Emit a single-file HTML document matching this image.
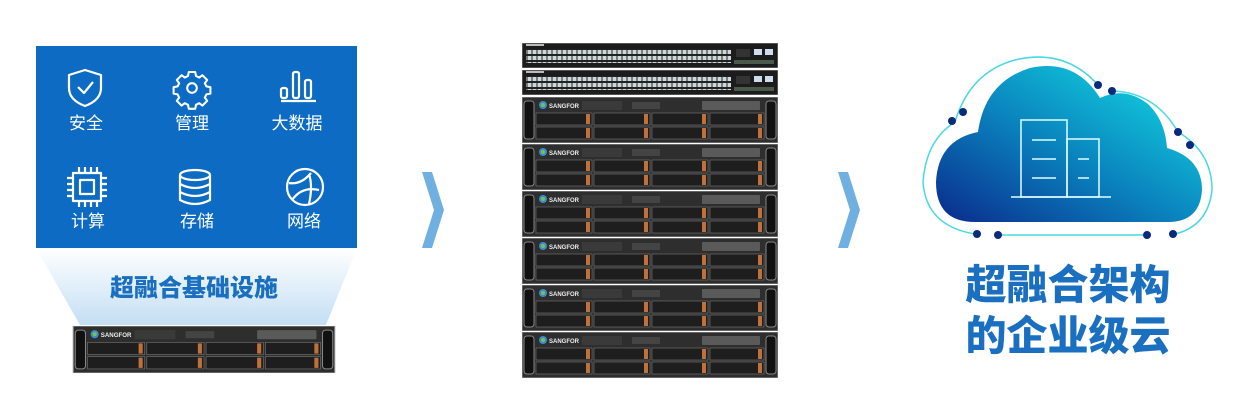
<!DOCTYPE html>
<html><head><meta charset="utf-8">
<style>
html,body{margin:0;padding:0;background:#fff;width:1250px;height:420px;overflow:hidden;font-family:"Liberation Sans","Noto Sans CJK SC",sans-serif;}
svg{position:absolute;left:0;top:0}
.t{font-family:"Liberation Sans","Noto Sans CJK SC",sans-serif;}
</style></head><body>
<svg width="1250" height="420" viewBox="0 0 1250 420" xmlns="http://www.w3.org/2000/svg">
<defs>
<linearGradient id="beam" x1="0" y1="0" x2="0" y2="1">
<stop offset="0" stop-color="#fff"/><stop offset="1" stop-color="#b9d9f2"/></linearGradient>
<linearGradient id="cg" x1="0" y1="1" x2="1" y2="0">
<stop offset="0" stop-color="#0a2a8c"/><stop offset="0.45" stop-color="#0a80bc"/><stop offset="1" stop-color="#14e4e8"/></linearGradient>
<symbol id="srv" viewBox="0 0 256 46">
<rect x="0" y="0" width="256" height="46" fill="#2e2e2e"/>
<rect x="0" y="0" width="256" height="46" fill="none" stroke="#999" stroke-width="1"/>
<rect x="2" y="4" width="10" height="38" rx="3" fill="#111" stroke="#888"/>
<rect x="244" y="4" width="10" height="38" rx="3" fill="#111" stroke="#888"/>
<circle cx="21" cy="8" r="4" fill="#3a8ad0"/><circle cx="21" cy="8" r="2" fill="#7cc04a"/>
<text x="27" y="11" font-size="6" fill="#eee" font-weight="bold" font-family="Liberation Sans">SANGFOR</text>
<rect x="60" y="4" width="40" height="9" fill="#3a3a3a"/>
<rect x="110" y="5" width="28" height="7" fill="#444"/>
<rect x="180" y="4" width="58" height="9" rx="1" fill="#5a5a5a"/>
<g fill="#1e1e1e" stroke="#777" stroke-width="0.6">
<rect x="14" y="16" width="56" height="12"/><rect x="72" y="16" width="56" height="12"/><rect x="130" y="16" width="56" height="12"/><rect x="188" y="16" width="54" height="12"/>
<rect x="14" y="30" width="56" height="12"/><rect x="72" y="30" width="56" height="12"/><rect x="130" y="30" width="56" height="12"/><rect x="188" y="30" width="54" height="12"/>
</g>
<g fill="#c0703a">
<rect x="64" y="17" width="4" height="10"/><rect x="122" y="17" width="4" height="10"/><rect x="180" y="17" width="4" height="10"/><rect x="236" y="17" width="4" height="10"/>
<rect x="64" y="31" width="4" height="10"/><rect x="122" y="31" width="4" height="10"/><rect x="180" y="31" width="4" height="10"/><rect x="236" y="31" width="4" height="10"/>
</g>
</symbol>
<pattern id="ports" width="5" height="12" patternUnits="userSpaceOnUse">
<rect width="5" height="12" fill="#222"/><rect x="0.5" y="1" width="4" height="4" fill="#cfd8d8"/><rect x="0.5" y="7" width="4" height="4" fill="#cfd8d8"/>
</pattern>
<symbol id="sw" viewBox="0 0 256 25">
<rect width="256" height="25" fill="#1c1c1c" stroke="#888"/>
<rect x="4" y="1" width="18" height="2" fill="#bbb"/>
<rect x="4" y="6" width="205" height="14" fill="url(#ports)"/>
<rect x="214" y="6" width="14" height="8" fill="#333"/>
<rect x="232" y="6" width="8" height="6" fill="#cde"/><rect x="243" y="6" width="8" height="6" fill="#cde"/>
<rect x="212" y="17" width="40" height="4" fill="#4a5a4a"/>
</symbol>
</defs>

<!-- left panel -->
<polygon points="36,248 357,248 326,325 80,325" fill="url(#beam)" opacity="0.85"/>
<rect x="36" y="46" width="321" height="202" fill="#0d6bc3"/>
<g fill="none" stroke="#fff" stroke-width="2.2" stroke-linejoin="round">
<path d="M85 70 L101 75 L101 88 Q101 100 85 106 Q69 100 69 88 L69 75 Z"/><path d="M78 87 L84 93 L93 82"/>
<g transform="translate(192 88) scale(0.8) translate(-192 -88)" stroke-width="2.6">
<path d="M188 68h8l1 5 4 2 4-3 6 6-3 4 2 4 5 1v8l-5 1-2 4 3 4-6 6-4-3-4 2-1 5h-8l-1-5-4-2-4 3-6-6 3-4-2-4-5-1v-8l5-1 2-4-3-4 6-6 4 3 4-2z"/><circle cx="192" cy="88" r="6"/></g>
<path d="M281 101 L316 101"/><rect x="281" y="88" width="6" height="10" rx="2"/><rect x="293" y="72" width="6" height="26" rx="2"/><rect x="305" y="80" width="6" height="18" rx="2"/>
<rect x="73" y="173" width="28" height="28"/><rect x="80" y="180" width="14" height="14"/>
<path d="M79 167v6M85 167v6M91 167v6M97 167v6M79 201v6M85 201v6M91 201v6M97 201v6M67 178h6M67 184h6M67 190h6M67 196h6M101 178h6M101 184h6M101 190h6M101 196h6"/>
<ellipse cx="195" cy="175" rx="15" ry="5"/><path d="M180 175v25q15 8 30 0v-25M180 184q15 8 30 0M180 192q15 8 30 0"/>
<circle cx="305" cy="187" r="18"/><path d="M289 183q12 2 22 -10M292 200q10-14 27-10M309 174q4 12 0 30"/>
</g>
<g fill="#fff" font-size="17" class="t" text-anchor="middle">
<text x="86" y="129">安全</text><text x="192" y="129">管理</text><text x="297" y="129">大数据</text>
<text x="88" y="227">计算</text><text x="197" y="227">存储</text><text x="304" y="227">网络</text>
</g>
<text x="194" y="296" font-size="24" fill="#1a6fc0" text-anchor="middle" style="font-family:'Noto Sans CJK SC',sans-serif;font-weight:900">超融合基础设施</text>
<use href="#srv" x="68" y="326" width="272" height="47"/>

<!-- chevrons -->
<polygon points="422,172 432,172 444,210 432,248 422,248 434,210" fill="#6fb0e0"/>
<polygon points="838,172 848,172 860,210 848,248 838,248 850,210" fill="#6fb0e0"/>

<!-- stack -->
<use href="#sw" x="522" y="43" width="256" height="25"/>
<use href="#sw" x="522" y="70" width="256" height="25"/>
<use href="#srv" x="522" y="97" width="256" height="46"/>
<use href="#srv" x="522" y="144" width="256" height="46"/>
<use href="#srv" x="522" y="191" width="256" height="46"/>
<use href="#srv" x="522" y="238" width="256" height="46"/>
<use href="#srv" x="522" y="285" width="256" height="46"/>
<use href="#srv" x="522" y="332" width="256" height="46"/>

<!-- cloud -->
<path d="M975 222 Q936 222 936 182 Q938 140 978 132 Q985 82 1030 68 Q1075 58 1100 98 Q1125 86 1148 104 Q1165 120 1167 148 Q1202 158 1202 190 Q1200 222 1168 222 Z" fill="url(#cg)"/>
<g fill="none" stroke="#35d4e0" stroke-width="1.5" opacity="0.9">
<path d="M975 234 Q926 226 923 182 Q926 140 955 122 Q970 72 1015 60 Q1065 48 1098 85"/>
<path d="M1112 91 Q1155 92 1178 132 Q1212 152 1212 190 Q1208 226 1175 234"/>
<path d="M1000 235 L1145 235"/>
</g>
<g fill="#0a2a7c"><circle cx="977" cy="234" r="4"/><circle cx="998" cy="235" r="4"/><circle cx="1147" cy="235" r="4"/><circle cx="1173" cy="234" r="4"/><circle cx="952" cy="121" r="4"/><circle cx="963" cy="112" r="4"/><circle cx="1098" cy="85" r="4"/><circle cx="1112" cy="91" r="4"/><circle cx="1178" cy="132" r="4"/><circle cx="1190" cy="145" r="4"/></g>
<g fill="none" stroke="#dff" stroke-width="1.5">
<rect x="1021" y="120" width="46" height="77"/><rect x="1067" y="139" width="32" height="58"/>
<path d="M1011 197h100M1032 140h24M1032 159h24M1032 178h24M1078 159h11M1078 178h11"/>
</g>
<g fill="#1a6fc0" font-size="41" class="t" text-anchor="middle" style="font-family:'Noto Sans CJK SC',sans-serif;font-weight:900">
<text x="1068" y="299">超融合架构</text><text x="1068" y="350">的企业级云</text>
</g>
</svg>
</body></html>
